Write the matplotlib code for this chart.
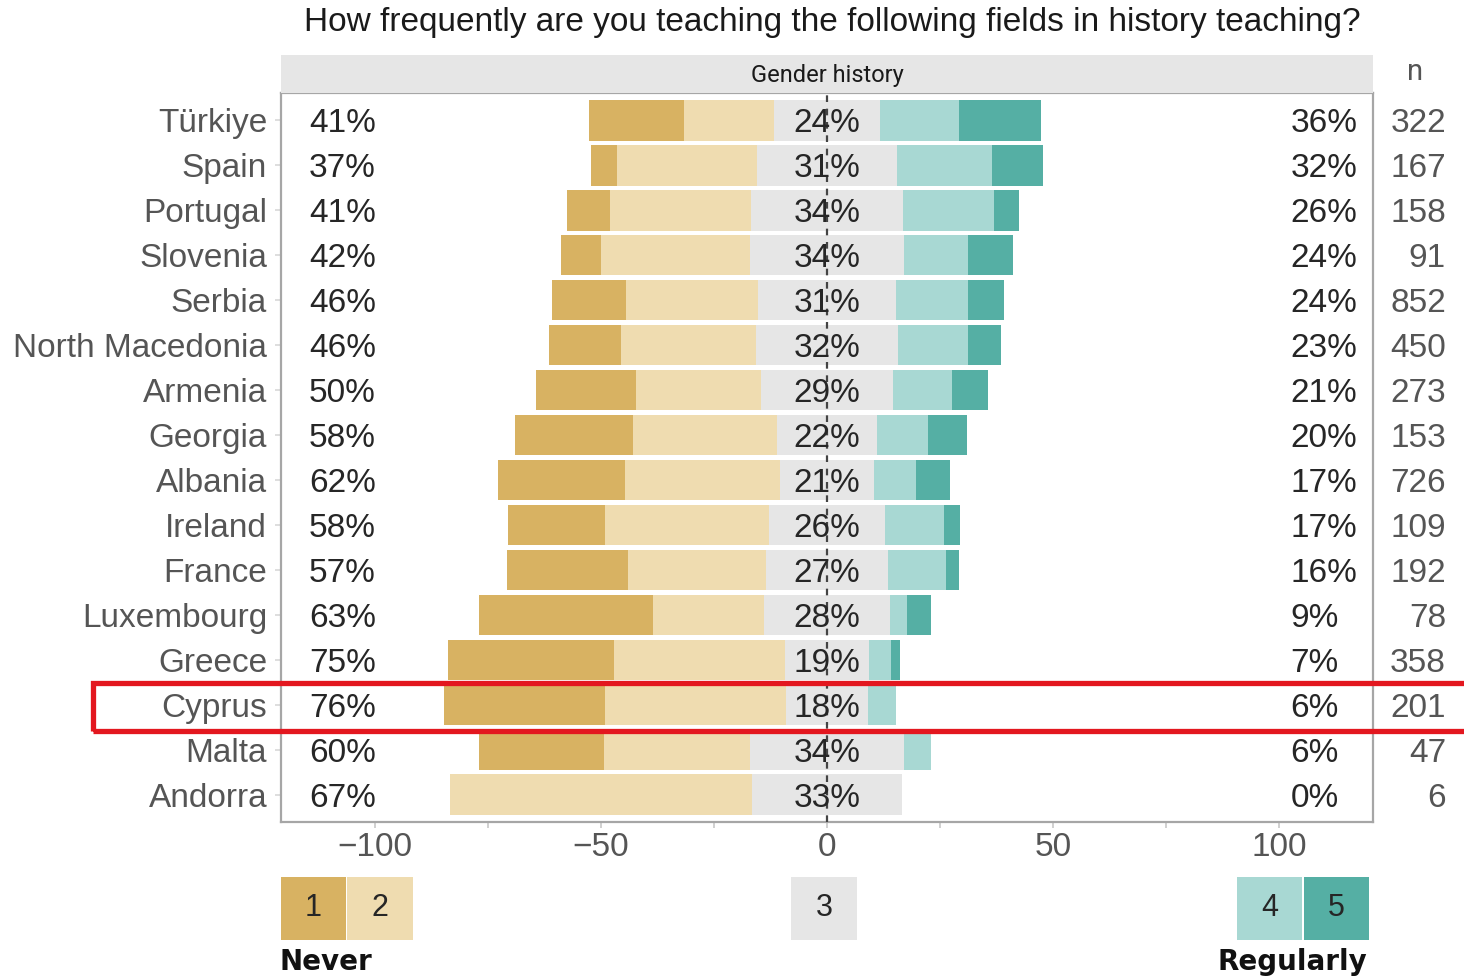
import matplotlib
matplotlib.use("Agg")
import matplotlib.pyplot as plt
import numpy as np
from matplotlib.patches import Rectangle
from matplotlib.ticker import MultipleLocator

plt.rcParams['font.family'] = ['Liberation Sans', 'DejaVu Sans']

countries = ["Türkiye", "Spain", "Portugal", "Slovenia", "Serbia", "North Macedonia",
             "Armenia", "Georgia", "Albania", "Ireland", "France", "Luxembourg",
             "Greece", "Cyprus", "Malta", "Andorra"]
lvl1 = [20.9, 5.8, 9.6, 8.9, 16.4, 16.0, 22.0, 26.1, 28.1, 21.4, 26.7, 38.4, 36.9, 35.6, 27.6, 0.0]
lvl2 = [19.9, 31.0, 31.2, 33.0, 29.2, 29.8, 27.8, 31.9, 34.1, 36.4, 30.6, 24.6, 37.7, 40.2, 32.4, 66.7]
lvl3 = [23.6, 31.0, 33.6, 34.0, 30.6, 31.6, 29.0, 22.0, 21.0, 25.6, 26.8, 28.0, 18.7, 18.0, 34.0, 33.3]
lvl4 = [17.5, 21.0, 20.2, 14.2, 15.9, 15.4, 13.2, 11.4, 9.2, 13.1, 12.9, 3.8, 4.9, 6.2, 6.0, 0.0]
lvl5 = [18.1, 11.2, 5.4, 9.9, 7.9, 7.2, 8.0, 8.6, 7.6, 3.5, 3.0, 5.2, 1.8, 0.0, 0.0, 0.0]
n_resp = [322, 167, 158, 91, 852, 450, 273, 153, 726, 109, 192, 78, 358, 201, 47, 6]
level_names = ["1", "2", "3", "4", "5"]
colors = ["#d8b262", "#efdcb0", "#e6e6e6", "#a8d8d3", "#55afa4"]

W, H = 1464, 976
fig = plt.figure(figsize=(W / 100, H / 100), dpi=100)

def fx(px):
    return px / W

def fy(py):
    return 1 - py / H

FS = 24
ax_l, ax_r, ax_t, ax_b = 281, 1373, 93, 822
ax = fig.add_axes([fx(ax_l), fy(ax_b), fx(ax_r - ax_l), fy(ax_t) - fy(ax_b)])

l1 = np.array(lvl1); l2 = np.array(lvl2); l3 = np.array(lvl3)
l4 = np.array(lvl4); l5 = np.array(lvl5)
y = np.arange(len(countries))
start = -(l1 + l2 + l3 / 2)
segs = [l1, l2, l3, l4, l5]
left = start.copy()
for seg, c in zip(segs, colors):
    ax.barh(y, seg, left=left, height=0.9, color=c, edgecolor='none', zorder=2)
    left = left + seg

ax.axvline(0, color='#444444', lw=1.6, ls=(0, (3, 3)), zorder=3)

txt_kw = dict(fontsize=FS, color='#262626', va='center_baseline', zorder=4)
for i in range(len(countries)):
    neg = round(l1[i] + l2[i])
    mid = round(l3[i])
    pos = round(l4[i] + l5[i])
    ax.text(-114.6, y[i], f"{neg}%", ha='left', **txt_kw)
    ax.text(0, y[i], f"{mid}%", ha='center', **txt_kw)
    ax.text(102.5, y[i], f"{pos}%", ha='left', **txt_kw)
    ax.text(1.0 + (1446 - ax_r) / (ax_r - ax_l), y[i], str(n_resp[i]),
            transform=ax.get_yaxis_transform(), ha='right', va='center_baseline',
            fontsize=FS, color='#555555', clip_on=False)

ax.set_xlim(-120.8, 120.8)
ax.set_ylim(len(countries) - 1 + 0.61, -0.61)
ax.set_yticks(y)
ax.set_yticklabels(countries, fontsize=FS, color='#555555')
ax.set_xticks([-100, -50, 0, 50, 100])
ax.set_xticklabels(["\u2212100", "\u221250", "0", "50", "100"], fontsize=FS, color='#555555')
ax.xaxis.set_minor_locator(MultipleLocator(25))
ax.tick_params(axis='x', which='both', length=4, color='#c8c8c8', width=1.2, pad=3)
ax.tick_params(axis='y', length=4, color='#d8d8d8', width=1.2, pad=6)
for s in ax.spines.values():
    s.set_color('#a6a6a6')
    s.set_linewidth(1.6)
ax.set_facecolor('white')

# strip
sax = fig.add_axes([fx(ax_l), fy(ax_t), fx(ax_r - ax_l), fy(55) - fy(ax_t)])
sax.set_facecolor('#e6e6e6')
sax.set_xticks([]); sax.set_yticks([])
for s in sax.spines.values():
    s.set_visible(False)
sax.text(0.5, 0.45, "Gender history", ha='center', va='center', fontsize=17,
         family=['Roboto', 'DejaVu Sans'], color='#1a1a1a', transform=sax.transAxes)

fig.text(fx(1415), fy(72), "n", ha='center', va='center', fontsize=21,
         family=['Roboto', 'DejaVu Sans'], color='#555555')

fig.text(fx(832), fy(23), "How frequently are you teaching the following fields in history teaching?",
         ha='center', va='center', fontsize=24, color='#1a1a1a')

# legend
boxes = [(281, 346), (347, 413), (791, 857), (1237, 1302), (1304, 1369)]
for (x0, x1), c, lab in zip(boxes, colors, level_names):
    fig.patches.append(Rectangle((fx(x0), fy(940)), fx(x1 - x0), fy(877) - fy(940),
                                 transform=fig.transFigure, facecolor=c, edgecolor='none'))
    fig.text(fx((x0 + x1) / 2), fy(908), lab, ha='center', va='center', fontsize=22, color='#262626')
fig.text(fx(280), fy(962), "Never", ha='left', va='center', fontsize=20, fontweight='bold',
         family=['DejaVu Sans'], color='#111111')
fig.text(fx(1367), fy(962), "Regularly", ha='right', va='center', fontsize=20, fontweight='bold',
         family=['DejaVu Sans'], color='#111111')

# red highlight box
fig.patches.append(Rectangle((fx(93), fy(731)), fx(1380), fy(683) - fy(731),
                             transform=fig.transFigure, facecolor='none',
                             edgecolor='#e3171f', linewidth=3.8, zorder=10))

fig.savefig("out.png", dpi=100)
